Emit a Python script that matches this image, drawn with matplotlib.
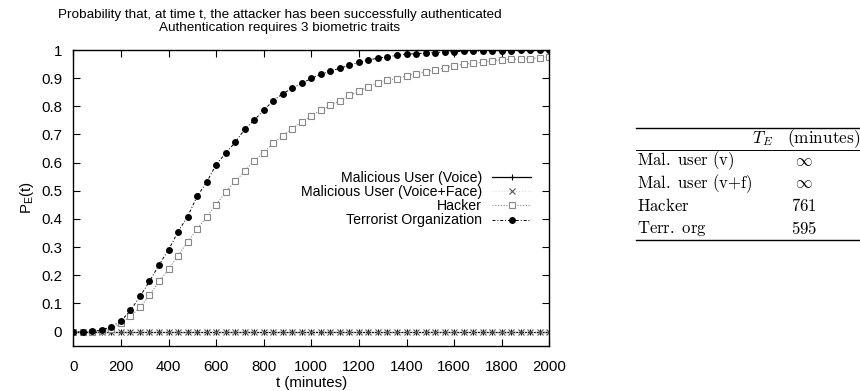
import numpy as np
import matplotlib
matplotlib.use("Agg")
import matplotlib.pyplot as plt
from matplotlib.lines import Line2D

plt.rcParams['font.family'] = ['Liberation Sans', 'DejaVu Sans']
plt.rcParams['mathtext.fontset'] = 'custom'
plt.rcParams['mathtext.rm'] = 'Liberation Sans'
plt.rcParams['mathtext.it'] = 'Liberation Sans:italic'

# ---- data ----
t_minutes = np.arange(0, 2001, 40)
mal_voice = [0.0] * 51
mal_voice_face = [0.0] * 51
hacker = [0.0, 0.0, 0.0, 0.002, 0.010, 0.029, 0.054, 0.086, 0.129, 0.178,
          0.221, 0.270, 0.317, 0.364, 0.407, 0.451, 0.495, 0.534, 0.569, 0.607,
          0.636, 0.670, 0.695, 0.721, 0.744, 0.766, 0.786, 0.803, 0.820, 0.839,
          0.853, 0.870, 0.884, 0.894, 0.898, 0.909, 0.916, 0.923, 0.929, 0.937,
          0.944, 0.949, 0.953, 0.957, 0.962, 0.965, 0.967, 0.968, 0.969, 0.972,
          0.976]
terrorist = [0.0, 0.0, 0.001, 0.005, 0.018, 0.037, 0.075, 0.125, 0.178, 0.237,
             0.290, 0.355, 0.408, 0.480, 0.530, 0.593, 0.633, 0.672, 0.718, 0.751,
             0.786, 0.820, 0.845, 0.864, 0.882, 0.899, 0.914, 0.925, 0.935, 0.946,
             0.956, 0.965, 0.971, 0.976, 0.981, 0.985, 0.987, 0.989, 0.991, 0.993,
             0.994, 0.995, 0.996, 0.997, 0.997, 0.998, 0.998, 0.999, 0.999, 0.999,
             0.999]
labels = ["Malicious User (Voice)", "Malicious User (Voice+Face)", "Hacker",
          "Terrorist Organization"]
x_ticks = list(range(0, 2001, 200))
y_ticks = [0, 0.1, 0.2, 0.3, 0.4, 0.5, 0.6, 0.7, 0.8, 0.9, 1]
y_tick_labels = ["0", "0.1", "0.2", "0.3", "0.4", "0.5", "0.6", "0.7", "0.8", "0.9", "1"]

table_rows = [r"Mal.\ user\ (v)", r"Mal.\ user\ (v{+}f)", r"Hacker", r"Terr.\ org"]
table_vals = [r"$\infty$", r"$\infty$", "761", "595"]

# ---- figure ----
fig = plt.figure(figsize=(8.6, 3.91), dpi=100)
ax = fig.add_axes([73.3 / 860, 1 - 345.7 / 391, (549.3 - 73.3) / 860, (345.7 - 50) / 391])

ax.plot(t_minutes, mal_voice, color='black', lw=0.9, marker='+', ms=5, mew=0.8,
        label=labels[0])
ax.plot(t_minutes, mal_voice_face, color='#dddddd', lw=0.8, ls=':', marker='x',
        ms=4, mew=0.8, mec='#555555', label=labels[1])
ax.plot(t_minutes, hacker, color='#888888', lw=0.8, ls=(0, (1, 1.5)), marker='s',
        ms=4.5, mew=0.8, mfc='white', mec='#888888', label=labels[2])
ax.plot(t_minutes, terrorist, color='black', lw=0.7, ls=(0, (3, 2, 1, 2)), marker='o',
        ms=5, mew=0, mfc='black', label=labels[3])

ax.set_xlim(0, 2000)
ax.set_ylim(-0.05, 1.0)
ax.set_xticks(x_ticks)
ax.set_yticks(y_ticks)
ax.set_yticklabels(y_tick_labels)
ax.tick_params(direction='in', length=5, width=0.8, top=True, right=True,
               labelsize=10.8, pad=8)
ax.tick_params(axis='x', pad=10)
for s in ax.spines.values():
    s.set_linewidth(1.0)

ax.set_xlabel("t (minutes)", fontsize=10.8, labelpad=2)
ax.set_ylabel(r"P$_{\mathrm{E}}$(t)", fontsize=10.8, labelpad=4)

fig.text(280 / 860, 1 - 15 / 391, "Probability that, at time t, the attacker has been successfully authenticated",
         ha='center', va='center', fontsize=9.7)
fig.text(280 / 860, 1 - 28.5 / 391, "Authentication requires 3 biometric traits",
         ha='center', va='center', fontsize=9.7)

leg = ax.legend(loc='upper right', bbox_to_anchor=(0.9616, 0.592), markerfirst=False,
                frameon=False, fontsize=10.2, handlelength=2.75, labelspacing=0.02,
                handletextpad=0.7, borderpad=0, borderaxespad=0)

# ---- table ----
x0, x1 = 636 / 860, 1.0
def hline(yp, lw=1.0):
    fig.add_artist(Line2D([x0, x1], [1 - yp / 391, 1 - yp / 391], color='black', lw=lw,
                          transform=fig.transFigure))
hline(128)
hline(150, 0.7)
hline(240)
fig.text(860 / 860, 1 - 139 / 391, r"$T_E\quad\mathrm{(minutes)}$", ha='right', va='center',
         fontsize=12.4, math_fontfamily='cm')
row_y = [161, 184, 206, 229]
for name, val, yp in zip(table_rows, table_vals, row_y):
    fig.text(637 / 860, 1 - yp / 391, r"$\mathrm{" + name + "}$",
             ha='left', va='center', fontsize=12, math_fontfamily='cm')
    fig.text(804 / 860, 1 - yp / 391, val if val.startswith("$") else r"$\mathrm{" + val + "}$",
             ha='center', va='center', fontsize=12, math_fontfamily='cm')

fig.savefig("out.png", dpi=100)
